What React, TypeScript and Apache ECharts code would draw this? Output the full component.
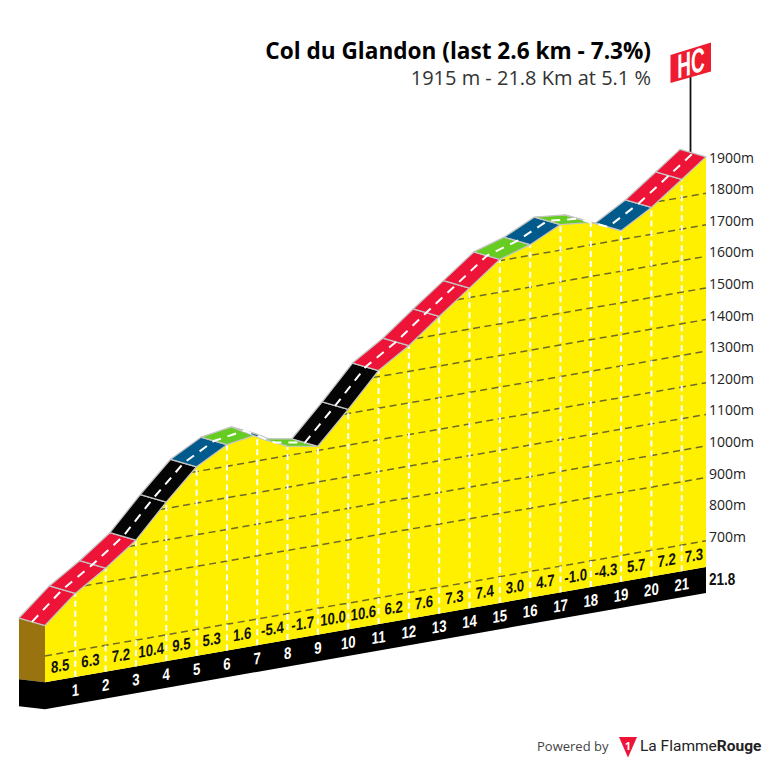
import React, { useEffect, useRef } from "react";
import * as echarts from "echarts";

const kmMarks = [0, 1, 2, 3, 4, 5, 6, 7, 8, 9, 10, 11, 12, 13, 14, 15, 16, 17, 18, 19, 20, 21, 21.8];
const altitudes = [796, 881, 944, 1016, 1120, 1215, 1268, 1284, 1230, 1213, 1313, 1419, 1481, 1557, 1630, 1704, 1734, 1781, 1771, 1728, 1785, 1857, 1915];
const gradients = ["8.5", "6.3", "7.2", "10.4", "9.5", "5.3", "1.6", "-5.4", "-1.7", "10.0", "10.6", "6.2", "7.6", "7.3", "7.4", "3.0", "4.7", "-1.0", "-4.3", "5.7", "7.2", "7.3"];
const gridAltitudes = [700, 800, 900, 1000, 1100, 1200, 1300, 1400, 1500, 1600, 1700, 1800];
const labelledAltitudes = [...gridAltitudes, 1900];
const titleText = "Col du Glandon (last 2.6 km - 7.3%)";
const subtitleText = "1915 m - 21.8 Km at 5.1 %";
const endLabel = "21.8";

const TOTAL = 21.8;
const BASE_ALT = 617;
const SLOPE = 5.28; // px the ground climbs per km
const LABEL_SHIFT = 4.6;
const BACK_X = -26;
const BACK_Y = -7.5;
const SKEW = 0.1745;
const SANS = '"Liberation Sans", sans-serif';

const roadColor = (g: number) => {
  const a = Math.abs(g);
  if (a >= 9) return "#050505";
  if (a >= 6) return "#ee1437";
  if (a > 3) return "#005b8c";
  return "#66cc22";
};

const project = (api: any, km: number, alt: number) => {
  const p = api.coord([km, alt]);
  return [p[0], p[1] + (TOTAL - km) * SLOPE + LABEL_SHIFT];
};

const altAt = (km: number) => {
  for (let i = 1; i < kmMarks.length; i++) {
    if (km <= kmMarks[i]) {
      const t = (km - kmMarks[i - 1]) / (kmMarks[i] - kmMarks[i - 1]);
      return altitudes[i - 1] + t * (altitudes[i] - altitudes[i - 1]);
    }
  }
  return altitudes[altitudes.length - 1];
};

// Stretches of a contour level that lie under the profile
const contourSpans = (level: number) => {
  const spans: [number, number][] = [];
  let start: number | null = altitudes[0] >= level - 5 ? 0 : null;
  for (let i = 1; i < kmMarks.length; i++) {
    const a0 = altitudes[i - 1];
    const a1 = altitudes[i];
    if ((a0 < level) !== (a1 < level)) {
      const km = kmMarks[i - 1] + ((level - a0) / (a1 - a0)) * (kmMarks[i] - kmMarks[i - 1]);
      if (start === null) start = km;
      else {
        spans.push([start, km]);
        start = null;
      }
    }
  }
  if (start !== null) spans.push([start, TOTAL]);
  return spans;
};

// A text condensed by sx and sheared so that its baseline climbs by k per px and its
// stems stay vertical: the matrix is split into rotation / scale / rotation groups.
const shearedText = (x: number, y: number, k: number, sx: number, style: any) => {
  const a = sx, b = 0, c = -k * sx, d = 1;
  const E = (a + d) / 2, F = (a - d) / 2, G = (c + b) / 2, H = (c - b) / 2;
  const Q = Math.hypot(E, H), R = Math.hypot(F, G);
  const a1 = Math.atan2(G, F), a2 = Math.atan2(H, E);
  const theta = (a2 - a1) / 2, phi = (a2 + a1) / 2;
  return {
    type: "group",
    x,
    y,
    rotation: -phi,
    scaleX: Q + R,
    scaleY: Q - R,
    children: [
      {
        type: "group",
        rotation: -theta,
        children: [{ type: "text", style: { align: "center", verticalAlign: "middle", ...style } }],
      },
    ],
  };
};

const layer = (name: string, data: any[], renderItem: any, z: number) => ({
  type: "custom",
  name,
  data,
  z,
  silent: true,
  clip: false,
  renderItem,
});

function buildOption() {
  const terrain = layer("terrain", [0], (_: any, api: any) => {
    const top = kmMarks.map((km, i) => project(api, km, altitudes[i]));
    const ground = [project(api, TOTAL, BASE_ALT), project(api, 0, BASE_ALT)];
    const f0 = project(api, 0, altitudes[0]);
    const g0 = ground[1];
    const g1 = ground[0];
    const BASE_H = 27;
    const children: any[] = [
      { type: "polygon", shape: { points: [[f0[0] + BACK_X, f0[1] + BACK_Y], f0, g0, [g0[0] + BACK_X, g0[1] - 3]] }, style: { fill: "#98730f" } },
      { type: "polygon", shape: { points: [[g0[0] + BACK_X, g0[1] - 3], g0, [g0[0], g0[1] + BASE_H], [g0[0] + BACK_X, g0[1] + BASE_H - 3]] }, style: { fill: "#000000" } },
      { type: "polygon", shape: { points: [g0, g1, [g1[0], g1[1] + BASE_H - 1], [g0[0], g0[1] + BASE_H]] }, style: { fill: "#000000" } },
      { type: "polygon", shape: { points: [...top, ...ground] }, style: { fill: "#fff000" } },
    ];
    return { type: "group", children };
  }, 1);

  const contours = layer("contours", gridAltitudes, (params: any, api: any) => {
    const level = gridAltitudes[params.dataIndex];
    return {
      type: "group",
      children: contourSpans(level).map(([a, b]) => {
        const p = project(api, a, level);
        const q = project(api, b, level);
        return {
          type: "line",
          shape: { x1: p[0], y1: p[1], x2: q[0], y2: q[1] },
          style: { stroke: "#6e6a28", lineWidth: 1.5, lineDash: [7, 4.5], fill: null },
        };
      }),
    };
  }, 2);

  const verticals = layer("verticals", kmMarks.slice(1, -1), (params: any, api: any) => {
    const km = kmMarks[params.dataIndex + 1];
    const p = project(api, km, BASE_ALT);
    const q = project(api, km, altAt(km));
    return {
      type: "line",
      shape: { x1: p[0], y1: p[1], x2: q[0], y2: q[1] },
      style: { stroke: "#ffffff", lineWidth: 2, lineDash: [6, 4], fill: null },
    };
  }, 3);

  const road = layer("road", gradients, (params: any, api: any) => {
    const i = params.dataIndex;
    const a = project(api, kmMarks[i], altitudes[i]);
    const b = project(api, kmMarks[i + 1], altitudes[i + 1]);
    return {
      type: "polygon",
      shape: { points: [a, b, [b[0] + BACK_X, b[1] + BACK_Y], [a[0] + BACK_X, a[1] + BACK_Y]] },
      style: { fill: roadColor(parseFloat(gradients[i])), stroke: "#c4c4c4", lineWidth: 1.3, lineJoin: "round" },
    };
  }, 4);

  const centre = layer("centre", [0], (_: any, api: any) => ({
    type: "polyline",
    shape: {
      points: kmMarks.map((km, i) => {
        const p = project(api, km, altitudes[i]);
        return [p[0] + BACK_X / 2, p[1] + BACK_Y / 2];
      }),
    },
    style: { stroke: "#ffffff", lineWidth: 2, lineDash: [9, 7], fill: null },
  }), 5);

  const gradientLabels = layer("gradients", gradients, (params: any, api: any) => {
    const i = params.dataIndex;
    const km = (kmMarks[i] + kmMarks[i + 1]) / 2;
    const p = project(api, km, BASE_ALT);
    return shearedText(p[0], p[1] - 14, SKEW, 0.8, { text: gradients[i], fill: "#111111", font: `bold 16.5px ${SANS}` });
  }, 6);

  const kmLabels = layer("km", kmMarks.slice(1, -1), (params: any, api: any) => {
    const km = kmMarks[params.dataIndex + 1];
    const p = project(api, km, BASE_ALT);
    return shearedText(p[0], p[1] + 13, SKEW, 0.8, { text: String(km), fill: "#ffffff", font: `bold 16.5px ${SANS}` });
  }, 6);

  const endKm = layer("end", [TOTAL], (_: any, api: any) => {
    const p = project(api, TOTAL, BASE_ALT);
    return {
      type: "text",
      x: p[0] + 3,
      y: p[1] + 12,
      scaleX: 0.82,
      style: { text: endLabel, align: "left", verticalAlign: "middle", fill: "#111111", font: `bold 16.5px ${SANS}` },
    };
  }, 6);

  return {
    animation: false,
    backgroundColor: "#ffffff",
    title: [
      { text: titleText, right: 114, top: 39, padding: 0, textStyle: { fontFamily: "Open Sans", fontWeight: "bold", fontSize: 22.6, color: "#000000" } },
      { text: subtitleText, right: 114, top: 67, padding: 0, textStyle: { fontFamily: "Open Sans", fontWeight: "normal", fontSize: 20, color: "#333333" } },
    ],
    grid: { left: 45, right: 59, top: 125.4, bottom: 195.2 },
    xAxis: { type: "value", min: 0, max: TOTAL, show: false },
    yAxis: {
      type: "value",
      position: "right",
      min: 600,
      max: 2000,
      interval: 100,
      axisLine: { show: false },
      axisTick: { show: false },
      splitLine: { show: false },
      axisLabel: {
        margin: 3,
        fontFamily: "Open Sans",
        fontSize: 14,
        color: "#222222",
        formatter: (v: number) => (labelledAltitudes.includes(v) ? `${v}m` : ""),
      },
    },
    series: [terrain, contours, verticals, road, centre, gradientLabels, kmLabels, endKm],
    graphic: [
      { type: "line", shape: { x1: 690.5, y1: 152, x2: 690.5, y2: 76 }, style: { stroke: "#111111", lineWidth: 1.8 } },
      { type: "polygon", shape: { points: [[670.5, 55], [711, 42.5], [711, 71.5], [670.5, 83]] }, style: { fill: "#ee1c2e" } },
      shearedText(691, 63, 0.31, 0.56, { text: "HC", fill: "#ffffff", font: `bold 34px ${SANS}` }),
      { type: "text", x: 537, y: 746, style: { text: "Powered by", align: "left", verticalAlign: "middle", fill: "#444444", font: '13px "Open Sans"' } },
      { type: "polygon", shape: { points: [[619, 737], [637, 737], [628, 757.5]] }, style: { fill: "#ee1437" } },
      { type: "text", x: 628, y: 745, style: { text: "1", align: "center", verticalAlign: "middle", fill: "#ffffff", font: 'bold 11px "Open Sans"' } },
      {
        type: "text",
        x: 640,
        y: 746,
        style: {
          text: "{a|La Flamme}{b|Rouge}",
          align: "left",
          verticalAlign: "middle",
          rich: {
            a: { fill: "#222222", font: "15.5px Roboto" },
            b: { fill: "#222222", font: "bold 15.5px Roboto" },
          },
        },
      },
    ],
  };
}

export default function App() {
  const ref = useRef<HTMLDivElement>(null);
  useEffect(() => {
    const chart = echarts.init(ref.current!, undefined, { renderer: "svg" });
    chart.setOption(buildOption() as any);
    return () => chart.dispose();
  }, []);
  return <div ref={ref} style={{ position: "absolute", left: 0, top: 0, width: 765, height: 763 }} />;
}
